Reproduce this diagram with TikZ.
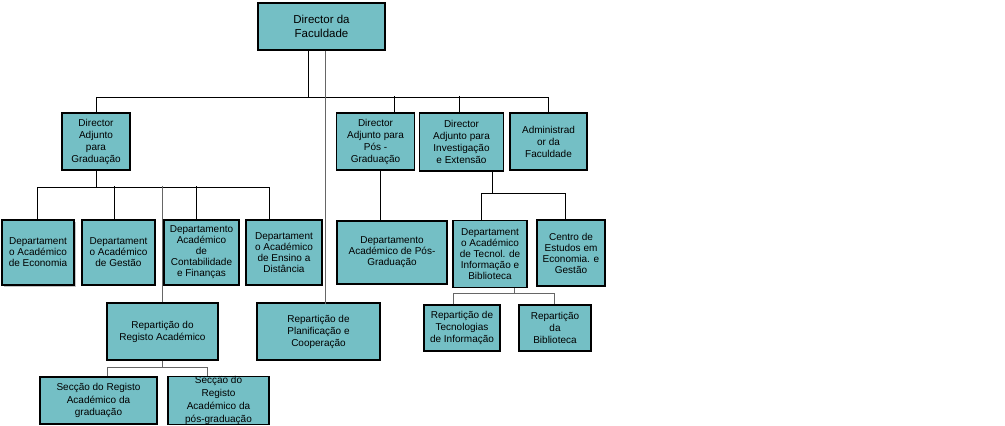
\documentclass[tikz,border=0pt]{standalone}
\usepackage{fontspec}
\setmainfont{Liberation Sans}
\usetikzlibrary{shadows}
\definecolor{orgfill}{RGB}{116,191,197}
\tikzset{
  unit/.style={draw,line width=1.1pt,fill=orgfill,inner sep=0pt,align=center,font=\fontsize{10}{12}\selectfont},
  dept/.style={unit,font=\fontsize{10}{11}\selectfont},
  link/.style={line width=0.8pt},
  greylink/.style={line width=0.8pt,black!60}
}
\begin{document}
\begin{tikzpicture}[x=1pt,y=-1pt]
\useasboundingbox (0,0) rectangle (1005,426);
% top levels
\node[unit,minimum width=127pt,minimum height=47pt,font=\fontsize{11.5}{13.5}\selectfont] (fac) at (321.5,26.5) {Director da\\Faculdade};
\node[unit,minimum width=68pt,minimum height=57pt] (dag) at (96,141.5) {Director\\Adjunto\\para\\Graduação};
\node[unit,minimum width=78pt,minimum height=57pt] (dapg) at (375.5,141.5) {Director\\Adjunto para\\Pós -\\Graduação};
\node[unit,minimum width=84pt,minimum height=58pt] (daie) at (461.5,142) {Director\\Adjunto para\\Investigação\\e Extensão};
\node[unit,minimum width=77pt,minimum height=57pt] (adm) at (548.5,141.5) {Administrad\\or da\\Faculdade};
% departments
\node[dept,minimum width=72pt,minimum height=65pt,drop shadow={shadow xshift=1.5pt,shadow yshift=-1.5pt,fill=black!45}] (deco) at (38,252.5) {Departament\\o Académico\\de Economia};
\node[dept,minimum width=73pt,minimum height=65pt] (dges) at (118.5,252.5) {Departament\\o Académico\\de Gestão};
\node[dept,minimum width=75pt,minimum height=65pt] (dcon) at (201.5,252.5) {Departamento\\Académico\\de\\Contabilidade\\e Finanças};
\node[dept,minimum width=76pt,minimum height=65pt] (dens) at (284,252.5) {Departament\\o Académico\\de Ensino a\\Distância};
\node[dept,minimum width=110pt,minimum height=63pt] (dpg) at (392,252.5) {Departamento\\Académico de Pós-\\Graduação};
\node[dept,minimum width=74pt,minimum height=67pt] (dtec) at (490,254) {Departament\\o Académico\\de Tecnol. de\\Informação e\\Biblioteca};
\node[dept,minimum width=68pt,minimum height=66pt] (cee) at (571,253) {Centro de\\Estudos em\\Economia. e\\Gestão};
% repartições and secções
\node[unit,minimum width=111pt,minimum height=57pt] (rra) at (162.5,331.5) {Repartição do\\Registo Académico};
\node[unit,minimum width=123pt,minimum height=57pt] (rpc) at (318.5,331.5) {Repartição de\\Planificação e\\Cooperação};
\node[unit,minimum width=76pt,minimum height=46pt] (rti) at (462,328) {Repartição de\\Tecnologias\\de Informação};
\node[unit,minimum width=72pt,minimum height=46pt] (rbib) at (555,328) {Repartição\\da\\Biblioteca};
\node[unit,minimum width=117pt,minimum height=47pt,font=\fontsize{10}{12.5}\selectfont] (srg) at (98.5,400.5) {Secção do Registo\\Académico da\\graduação};
\node[unit,minimum width=101pt,minimum height=47pt,font=\fontsize{10}{12.8}\selectfont] (srpg) at (218.5,400.5) {Secção do\\Registo\\Académico da\\pós-graduação};

\draw[link] ([xshift=-13.5pt]fac.south) -- ++(0,47) coordinate (j0);
\draw[link] (dag.north) |- (j0) -| (adm.north);
\draw[link] ([xshift=18.5pt]dapg.north) -- ++(0,-16);
\draw[link] ([xshift=-2pt]daie.north) -- ++(0,-16);
\draw[greylink] ([xshift=3.5pt]fac.south) -- ++(0,253);

\draw[link] (dag.south) -- ++(0,17) coordinate (j1);
\draw[link] ([xshift=-1pt]deco.north) |- (j1) -| ([xshift=-15pt]dens.north);
\draw[link] ([xshift=-4.5pt]dges.north) -- ++(0,-33);
\draw[link] ([xshift=-5.5pt]dcon.north) -- ++(0,-33);
\draw[greylink] (rra.north) -- ++(0,-116);

\draw[link] ([xshift=4.5pt]dapg.south) -- ++(0,50);

\draw[link] ([xshift=31pt]daie.south) -- ++(0,22) coordinate (j3);
\draw[link] ([xshift=-9pt]dtec.north) |- (j3) -| ([xshift=-6pt]cee.north);

\draw[greylink] ([xshift=24pt]dtec.south) -- ++(0,5.5) coordinate (j4);
\draw[greylink] ([xshift=-9pt]rti.north) |- (j4) -| ([xshift=-1pt]rbib.north);

\draw[greylink] (rra.south) -- ++(0,7) coordinate (j5);
\draw[greylink] ([xshift=8.5pt]srg.north) |- (j5) -| ([xshift=-11.5pt]srpg.north);
\end{tikzpicture}
\end{document}
